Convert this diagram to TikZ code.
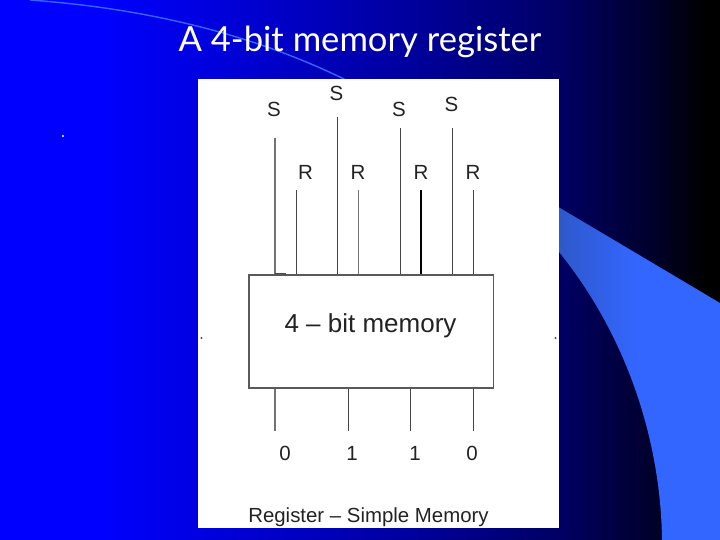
\documentclass[tikz,border=0pt]{standalone}
\usepackage{fontspec}
\setmainfont{Liberation Sans}
\newfontfamily\titlefont{Lato}
\definecolor{bgA}{RGB}{0,0,255}
\definecolor{bgB}{RGB}{0,0,225}
\definecolor{bgC}{RGB}{0,0,160}
\definecolor{bgD}{RGB}{0,0,100}
\definecolor{bgE}{RGB}{0,0,45}
\definecolor{swoosh}{RGB}{51,102,255}
\definecolor{swooshdark}{RGB}{46,88,200}
\definecolor{ink}{RGB}{35,35,35}
\pgfdeclarehorizontalshading{slidebg}{100bp}{
  color(0bp)=(bgA); color(25bp)=(bgA); color(31.9bp)=(bgA); color(38.9bp)=(bgB);
  color(52.8bp)=(bgC); color(63.9bp)=(bgD); color(70.1bp)=(bgE); color(74bp)=(black); color(100bp)=(black)}
\tikzset{
  wire/.style={draw=ink!85,line width=1pt},
  greywire/.style={draw=black!55,line width=1.3pt},
  boldwire/.style={draw=black,line width=1.6pt},
  siglabel/.style={text=ink,font=\fontsize{20.5}{22}\selectfont,inner sep=0pt},
  speck/.style={circle,inner sep=0pt,minimum size=2.4pt},
}
\begin{document}
\begin{tikzpicture}[x=1pt,y=-1pt]
\useasboundingbox (0,0) rectangle (720,540);
\shade[shading=slidebg] (0,0) rectangle (720,540);
\begin{scope}
\clip (0,0) rectangle (720,540);
\draw[swoosh,line width=1.4pt] (30,0) .. controls (140,8) and (250,32) .. (350,82);
\shade[left color=swooshdark,right color=swoosh,middle color=swoosh]
  (555,205) -- (720,303) -- (720,540) -- (662,540)
  .. controls (661,450) and (632,340) .. (555,247) -- cycle;
\end{scope}
\fill[white] (198,79) rectangle (559,528);
\node[text=white,font=\titlefont\fontsize{34.6}{38}\selectfont,inner sep=0pt] (title) at (360,42) {A 4-bit memory register};
\node[speck,fill=white] (dotA) at (63,136) {};
\node[speck,fill=black!70] (dotB) at (201.5,338) {};
\node[speck,fill=black!70] (dotC) at (555.5,338) {};
\node[draw=black!65,line width=1.1pt,minimum width=244.5pt,minimum height=113pt,inner sep=0pt] (box) at (371.2,331.5) {};
\node[text=ink,font=\fontsize{26}{28}\selectfont,inner sep=0pt] (boxlabel) at (370.5,325.5) {4 -- bit memory};
\node[text=ink,font=\fontsize{20.4}{22}\selectfont,inner sep=0pt] (caption) at (368.5,517) {Register -- Simple Memory};
\node[siglabel] (s1) at (274,109.5) {S};
\node[siglabel] (s2) at (336.5,93.5) {S};
\node[siglabel] (s3) at (399,109.5) {S};
\node[siglabel] (s4) at (451.5,104.5) {S};
\node[siglabel] (r1) at (305.5,172) {R};
\node[siglabel] (r2) at (358,172) {R};
\node[siglabel] (r3) at (421,172) {R};
\node[siglabel] (r4) at (473,172) {R};
\node[siglabel] (q1) at (285,453) {0};
\node[siglabel] (q2) at (352,453) {1};
\node[siglabel] (q3) at (415,453) {1};
\node[siglabel] (q4) at (472,453) {0};
\coordinate (ts1) at (275,138);
\coordinate (ts2) at (337.3,117);
\coordinate (ts3) at (400,128);
\coordinate (ts4) at (452,128);
\coordinate (tr1) at (296,190.5);
\coordinate (tr2) at (358.7,190.5);
\coordinate (tr3) at (421,190.5);
\coordinate (tr4) at (473.4,190.5);
\coordinate (b1) at (275,430.7);
\coordinate (b2) at (348.3,430.7);
\coordinate (b3) at (410.7,430.7);
\coordinate (b4) at (473.3,430.7);
\draw[greywire] (ts1) -- (ts1 |- box.north);
\draw[wire] (ts2) -- (ts2 |- box.north);
\draw[wire] (ts3) -- (ts3 |- box.north);
\draw[wire] (ts4) -- (ts4 |- box.north);
\draw[wire] (tr1) -- (tr1 |- box.north);
\draw[greywire] (tr2) -- (tr2 |- box.north);
\draw[boldwire] (tr3) -- (tr3 |- box.north);
\draw[wire] (tr4) -- (tr4 |- box.north);
\draw[greywire] (b1 |- box.south) -- (b1);
\draw[wire] (b2 |- box.south) -- (b2);
\draw[wire] (b3 |- box.south) -- (b3);
\draw[wire] (b4 |- box.south) -- (b4);
\coordinate (tickend) at (286,273.3);
\draw[draw=black!70,line width=0.8pt] (ts1 |- tickend) -- (tickend);
\end{tikzpicture}
\end{document}
